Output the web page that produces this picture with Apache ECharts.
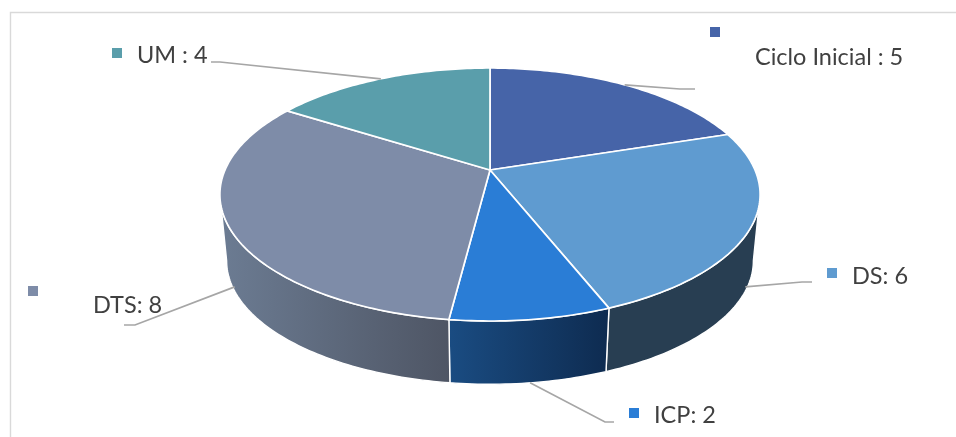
<!DOCTYPE html>
<html>
<head>
<meta charset="utf-8">
<style>html,body{margin:0;padding:0;background:#fff}#c{width:956px;height:437px}</style>
<script src="https://cdn.jsdelivr.net/npm/echarts@6/dist/echarts.min.js"></script>
</head>
<body>
<div id="c"></div>
<script>
// Data
const categories = ['Ciclo Inicial :', 'DS:', 'ICP:', 'DTS:', 'UM :'];
const values = [5, 6, 2, 8, 4];

// Styles
const topColors = ['#4664a8', '#5f9bd0', '#2a7dd6', '#7e8ca8', '#5a9eab'];
const wallLeft  = ['#2f4470', '#283e52', '#1a4c82', '#6c7c93', '#3c6a73'];
const wallRight = ['#2f4470', '#283e52', '#0e2b50', '#4e5564', '#3c6a73'];

// Label layout: marker left/top, text left/middle, leader elbow and end, depth of anchor on the side wall
const markerPos = [[710, 27], [827, 268], [629, 408], [28, 286], [112, 48]];
const textPos   = [[755, 57], [852, 276], [654, 415], [93, 305], [137, 55]];
const leaderEnd = [[[680, 89], [695, 89]], [[802, 282], [812, 282]], [[605, 422], [614, 422]], [[135, 325], [124, 325]], [[220, 62], [211, 62]]];
const anchorDepth = [0, 0.92, 1, 0.92, 0];

// Perspective projection of the disc
const CX = 490, CY = 170, A = 265, B = 121.76, K = -0.1937, DEPTH = 67, SHRINK = 0.975;
function project(deg, depth) {
  const t = deg * Math.PI / 180, u = Math.sin(t), v = -Math.cos(t), w = 1 + K * v;
  const s = 1 - (1 - SHRINK) * depth;
  return [CX + s * A * u / w, CY + DEPTH * depth + s * B * v / w];
}
function arc(a0, a1, depth) {
  const n = Math.max(2, Math.ceil(Math.abs(a1 - a0)));
  const pts = [];
  for (let i = 0; i <= n; i++) pts.push(project(a0 + (a1 - a0) * i / n, depth));
  return pts;
}
const total = values.reduce((a, b) => a + b, 0);
const thetaRight = Math.acos(K) * 180 / Math.PI;
const thetaLeft = 360 - thetaRight;

function renderItem(params, api) {
  const i = params.dataIndex;
  let before = 0;
  for (let j = 0; j < i; j++) before += values[j];
  const a0 = before / total * 360;
  const a1 = a0 + api.value(0) / total * 360;
  const mid = (a0 + a1) / 2;
  const children = [];
  // side wall (visible front part only)
  const w0 = Math.max(a0, thetaRight), w1 = Math.min(a1, thetaLeft);
  if (w1 > w0) {
    children.push({
      type: 'polygon', z2: 1,
      shape: { points: arc(w0, w1, 0).concat(arc(w1, w0, 1)) },
      style: {
        fill: { type: 'linear', x: 0, y: 0, x2: 1, y2: 0, colorStops: [
          { offset: 0, color: wallLeft[i] }, { offset: 1, color: wallRight[i] } ] },
        stroke: '#ffffff', lineWidth: 1.4, lineJoin: 'round'
      }
    });
  }
  // top face
  children.push({
    type: 'polygon', z2: 5,
    shape: { points: [[CX, CY]].concat(arc(a0, a1, 0)) },
    style: { fill: topColors[i], stroke: '#ffffff', lineWidth: 1.7, lineJoin: 'round' }
  });
  // leader line
  const d = anchorDepth[i];
  children.push({
    type: 'polyline', z2: 8,
    shape: { points: [project(mid, d), leaderEnd[i][0], leaderEnd[i][1]] },
    style: { fill: 'none', stroke: '#a6a6a6', lineWidth: 1.7 }
  });
  // marker + text
  children.push({
    type: 'rect', z2: 9,
    shape: { x: markerPos[i][0], y: markerPos[i][1], width: 10, height: 10 },
    style: { fill: topColors[i] }
  });
  children.push({
    type: 'text', z2: 9,
    style: {
      x: textPos[i][0], y: textPos[i][1],
      text: categories[i] + ' ' + api.value(0),
      fontFamily: 'Lato', fontSize: 23.5,
      fill: '#404040', verticalAlign: 'middle', align: 'left'
    }
  });
  return { type: 'group', children };
}

const chart = echarts.init(document.getElementById('c'), null, { renderer: 'canvas' });
chart.setOption({
  animation: false,
  backgroundColor: '#ffffff',
  tooltip: { show: false },
  graphic: [{
    type: 'polyline', silent: true,
    shape: { points: [[10.5, 437], [10.5, 12.5], [956, 12.5]] },
    style: { fill: 'none', stroke: '#d9d9d9', lineWidth: 1.4 }
  }],
  series: [{
    type: 'custom',
    coordinateSystem: 'none',
    clip: false,
    silent: true,
    renderItem,
    data: values.map((v, i) => ({ name: categories[i], value: [v] }))
  }]
});
</script>
</body>
</html>
